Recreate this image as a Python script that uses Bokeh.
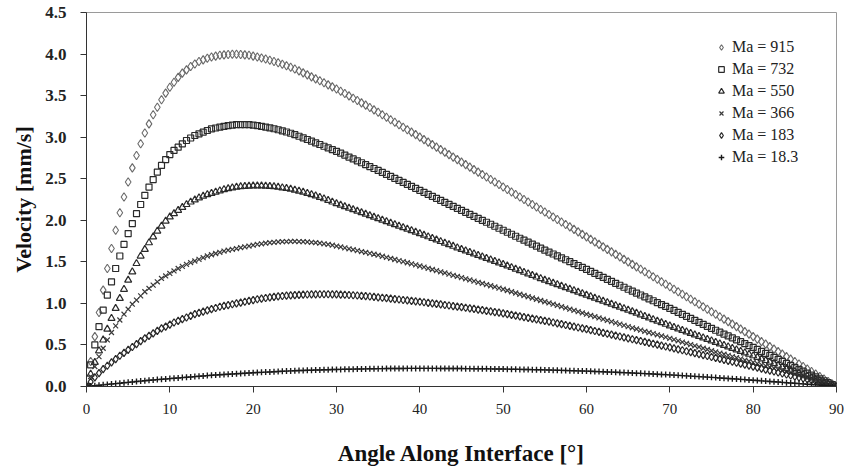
from bokeh.plotting import figure
from bokeh.models import Range1d, FixedTicker, NumeralTickFormatter, Legend, LegendItem
from bokeh.embed import file_html
from bokeh.resources import INLINE

# Sampling angle along the interface, degrees (0.5 degree steps)
ANGLE = [i * 0.5 for i in range(181)]

X_TICKS = [0, 10, 20, 30, 40, 50, 60, 70, 80, 90]
Y_TICKS = [0.0, 0.5, 1.0, 1.5, 2.0, 2.5, 3.0, 3.5, 4.0, 4.5]

# Interface velocity [mm/s] for each Marangoni number
MA_915 = [0,
    0.30, 0.60, 0.89, 1.16, 1.42, 1.66, 1.88, 2.09, 2.28, 2.46,
    2.63, 2.78, 2.92, 3.05, 3.16, 3.27, 3.36, 3.45, 3.53, 3.60,
    3.66, 3.72, 3.77, 3.81, 3.85, 3.88, 3.91, 3.93, 3.95, 3.965,
    3.975, 3.985, 3.99, 3.995, 3.998, 3.998, 3.995, 3.99, 3.985, 3.975,
    3.965, 3.953, 3.940, 3.926, 3.911, 3.895, 3.878, 3.860, 3.841, 3.82,
    3.797, 3.774, 3.750, 3.726, 3.702, 3.678, 3.654, 3.629, 3.605, 3.58,
    3.553, 3.525, 3.497, 3.469, 3.441, 3.413, 3.385, 3.357, 3.329, 3.30,
    3.27, 3.24, 3.21, 3.18, 3.15, 3.12, 3.09, 3.06, 3.03, 3.00,
    2.97, 2.94, 2.91, 2.88, 2.85, 2.82, 2.79, 2.76, 2.73, 2.70,
    2.67, 2.64, 2.61, 2.58, 2.55, 2.52, 2.49, 2.46, 2.43, 2.40,
    2.37, 2.34, 2.31, 2.28, 2.25, 2.22, 2.19, 2.16, 2.13, 2.10,
    2.07, 2.04, 2.01, 1.98, 1.95, 1.92, 1.89, 1.86, 1.83, 1.80,
    1.77, 1.74, 1.71, 1.68, 1.65, 1.62, 1.59, 1.56, 1.53, 1.50,
    1.47, 1.44, 1.41, 1.38, 1.35, 1.32, 1.29, 1.26, 1.23, 1.20,
    1.17, 1.14, 1.11, 1.08, 1.05, 1.02, 0.99, 0.96, 0.93, 0.90,
    0.87, 0.84, 0.81, 0.78, 0.75, 0.72, 0.69, 0.66, 0.63, 0.60,
    0.57, 0.54, 0.51, 0.48, 0.45, 0.42, 0.39, 0.36, 0.33, 0.30,
    0.27, 0.24, 0.21, 0.18, 0.15, 0.12, 0.09, 0.06, 0.03, 0.0]

MA_732 = [0,
    0.26, 0.50, 0.72, 0.92, 1.10, 1.26, 1.42, 1.57, 1.71, 1.84,
    1.96, 2.08, 2.19, 2.30, 2.40, 2.49, 2.58, 2.66, 2.73, 2.79,
    2.84, 2.88, 2.92, 2.96, 2.99, 3.02, 3.04, 3.06, 3.08, 3.10,
    3.11, 3.12, 3.13, 3.14, 3.145, 3.15, 3.152, 3.152, 3.15, 3.145,
    3.139, 3.131, 3.122, 3.112, 3.101, 3.089, 3.076, 3.062, 3.047, 3.03,
    3.011, 2.992, 2.972, 2.952, 2.932, 2.912, 2.891, 2.871, 2.850, 2.83,
    2.807, 2.784, 2.761, 2.738, 2.715, 2.692, 2.669, 2.646, 2.623, 2.60,
    2.576, 2.552, 2.528, 2.504, 2.48, 2.456, 2.432, 2.408, 2.384, 2.36,
    2.336, 2.312, 2.288, 2.264, 2.24, 2.216, 2.192, 2.168, 2.144, 2.12,
    2.096, 2.072, 2.048, 2.024, 2.00, 1.976, 1.952, 1.928, 1.904, 1.88,
    1.856, 1.832, 1.808, 1.784, 1.76, 1.736, 1.712, 1.688, 1.664, 1.64,
    1.617, 1.594, 1.571, 1.548, 1.525, 1.502, 1.479, 1.456, 1.433, 1.41,
    1.386, 1.362, 1.338, 1.314, 1.29, 1.266, 1.242, 1.218, 1.194, 1.17,
    1.147, 1.124, 1.101, 1.078, 1.055, 1.032, 1.009, 0.986, 0.963, 0.94,
    0.916, 0.892, 0.868, 0.844, 0.82, 0.796, 0.772, 0.748, 0.724, 0.70,
    0.677, 0.654, 0.631, 0.608, 0.585, 0.562, 0.539, 0.516, 0.493, 0.47,
    0.446, 0.422, 0.398, 0.374, 0.35, 0.326, 0.302, 0.278, 0.254, 0.23,
    0.207, 0.184, 0.161, 0.138, 0.115, 0.092, 0.069, 0.046, 0.023, 0.0]

MA_550 = [0,
    0.15, 0.29, 0.43, 0.56, 0.69, 0.82, 0.94, 1.06, 1.17, 1.28,
    1.38, 1.48, 1.57, 1.65, 1.73, 1.80, 1.87, 1.93, 1.99, 2.04,
    2.08, 2.12, 2.155, 2.19, 2.22, 2.245, 2.27, 2.29, 2.31, 2.325,
    2.34, 2.355, 2.37, 2.38, 2.39, 2.398, 2.404, 2.408, 2.411, 2.413,
    2.414, 2.413, 2.411, 2.408, 2.404, 2.398, 2.391, 2.383, 2.374, 2.364,
    2.352, 2.339, 2.325, 2.31, 2.294, 2.277, 2.259, 2.24, 2.22, 2.20,
    2.182, 2.164, 2.146, 2.128, 2.11, 2.092, 2.074, 2.056, 2.038, 2.02,
    2.002, 1.984, 1.966, 1.948, 1.93, 1.912, 1.894, 1.876, 1.858, 1.84,
    1.821, 1.802, 1.783, 1.764, 1.745, 1.726, 1.707, 1.688, 1.669, 1.65,
    1.632, 1.614, 1.596, 1.578, 1.56, 1.542, 1.524, 1.506, 1.488, 1.47,
    1.451, 1.432, 1.413, 1.394, 1.375, 1.356, 1.337, 1.318, 1.299, 1.28,
    1.262, 1.244, 1.226, 1.208, 1.19, 1.172, 1.154, 1.136, 1.118, 1.10,
    1.082, 1.064, 1.046, 1.028, 1.01, 0.992, 0.974, 0.956, 0.938, 0.92,
    0.901, 0.882, 0.863, 0.844, 0.825, 0.806, 0.787, 0.768, 0.749, 0.73,
    0.712, 0.694, 0.676, 0.658, 0.64, 0.622, 0.604, 0.586, 0.568, 0.55,
    0.532, 0.514, 0.496, 0.478, 0.46, 0.442, 0.424, 0.406, 0.388, 0.37,
    0.351, 0.332, 0.313, 0.294, 0.275, 0.256, 0.237, 0.218, 0.199, 0.18,
    0.162, 0.144, 0.126, 0.108, 0.09, 0.072, 0.054, 0.036, 0.018, 0.0]

MA_366 = [0,
    0.12, 0.24, 0.36, 0.46, 0.56, 0.65, 0.73, 0.80, 0.87, 0.93,
    0.99, 1.04, 1.09, 1.14, 1.18, 1.22, 1.26, 1.30, 1.33, 1.36,
    1.39, 1.42, 1.445, 1.47, 1.49, 1.51, 1.53, 1.55, 1.57, 1.585,
    1.60, 1.615, 1.63, 1.64, 1.65, 1.66, 1.67, 1.68, 1.69, 1.70,
    1.71, 1.717, 1.724, 1.73, 1.735, 1.739, 1.742, 1.744, 1.745, 1.745,
    1.744, 1.742, 1.739, 1.735, 1.73, 1.724, 1.717, 1.709, 1.70, 1.69,
    1.679, 1.668, 1.657, 1.646, 1.635, 1.624, 1.613, 1.602, 1.591, 1.58,
    1.567, 1.554, 1.541, 1.528, 1.515, 1.502, 1.489, 1.476, 1.463, 1.45,
    1.436, 1.422, 1.408, 1.394, 1.38, 1.366, 1.352, 1.338, 1.324, 1.31,
    1.296, 1.282, 1.268, 1.254, 1.24, 1.226, 1.212, 1.198, 1.184, 1.17,
    1.155, 1.14, 1.125, 1.11, 1.095, 1.08, 1.065, 1.05, 1.035, 1.02,
    1.005, 0.99, 0.975, 0.96, 0.945, 0.93, 0.915, 0.90, 0.885, 0.87,
    0.855, 0.84, 0.825, 0.81, 0.795, 0.78, 0.765, 0.75, 0.735, 0.72,
    0.706, 0.692, 0.678, 0.664, 0.65, 0.636, 0.622, 0.608, 0.594, 0.58,
    0.565, 0.55, 0.535, 0.52, 0.505, 0.49, 0.475, 0.46, 0.445, 0.43,
    0.416, 0.402, 0.388, 0.374, 0.36, 0.346, 0.332, 0.318, 0.304, 0.29,
    0.276, 0.261, 0.247, 0.232, 0.218, 0.203, 0.189, 0.174, 0.16, 0.145,
    0.131, 0.116, 0.102, 0.087, 0.073, 0.058, 0.044, 0.029, 0.015, 0.0]

MA_183 = [0,
    0.055, 0.11, 0.16, 0.21, 0.25, 0.29, 0.33, 0.37, 0.405, 0.44,
    0.475, 0.51, 0.545, 0.58, 0.61, 0.64, 0.67, 0.70, 0.72, 0.745,
    0.77, 0.79, 0.81, 0.83, 0.85, 0.87, 0.885, 0.90, 0.915, 0.93,
    0.945, 0.96, 0.97, 0.98, 0.99, 1.00, 1.01, 1.02, 1.03, 1.04,
    1.05, 1.058, 1.065, 1.072, 1.078, 1.084, 1.089, 1.093, 1.097, 1.10,
    1.103, 1.105, 1.107, 1.108, 1.109, 1.11, 1.11, 1.11, 1.109, 1.108,
    1.106, 1.104, 1.101, 1.098, 1.095, 1.091, 1.087, 1.083, 1.078, 1.073,
    1.068, 1.063, 1.057, 1.052, 1.047, 1.041, 1.036, 1.031, 1.025, 1.02,
    1.014, 1.007, 1.001, 0.994, 0.988, 0.981, 0.975, 0.968, 0.962, 0.955,
    0.948, 0.94, 0.933, 0.925, 0.918, 0.91, 0.903, 0.895, 0.888, 0.88,
    0.871, 0.862, 0.853, 0.844, 0.835, 0.826, 0.817, 0.808, 0.799, 0.79,
    0.78, 0.77, 0.76, 0.75, 0.74, 0.73, 0.72, 0.71, 0.70, 0.69,
    0.679, 0.668, 0.657, 0.646, 0.635, 0.624, 0.613, 0.602, 0.591, 0.58,
    0.569, 0.558, 0.547, 0.536, 0.525, 0.514, 0.503, 0.492, 0.481, 0.47,
    0.459, 0.447, 0.436, 0.424, 0.413, 0.401, 0.39, 0.378, 0.367, 0.355,
    0.344, 0.332, 0.321, 0.309, 0.298, 0.286, 0.275, 0.263, 0.252, 0.24,
    0.228, 0.216, 0.204, 0.192, 0.18, 0.168, 0.156, 0.144, 0.132, 0.12,
    0.108, 0.096, 0.084, 0.072, 0.06, 0.048, 0.036, 0.024, 0.012, 0.0]

MA_18_3 = [0,
    0.005, 0.01, 0.015, 0.02, 0.025, 0.03, 0.035, 0.04, 0.045, 0.05,
    0.055, 0.06, 0.065, 0.07, 0.075, 0.079, 0.083, 0.087, 0.091, 0.095,
    0.099, 0.103, 0.107, 0.111, 0.115, 0.119, 0.123, 0.127, 0.131, 0.135,
    0.138, 0.141, 0.144, 0.147, 0.15, 0.153, 0.156, 0.159, 0.162, 0.165,
    0.168, 0.170, 0.173, 0.175, 0.178, 0.180, 0.183, 0.185, 0.188, 0.19,
    0.192, 0.193, 0.195, 0.196, 0.198, 0.199, 0.201, 0.202, 0.204, 0.205,
    0.206, 0.207, 0.208, 0.209, 0.21, 0.211, 0.212, 0.213, 0.214, 0.215,
    0.215, 0.216, 0.216, 0.217, 0.217, 0.217, 0.218, 0.218, 0.218, 0.218,
    0.218, 0.218, 0.218, 0.218, 0.217, 0.217, 0.217, 0.216, 0.216, 0.216,
    0.215, 0.215, 0.214, 0.214, 0.213, 0.213, 0.212, 0.211, 0.211, 0.21,
    0.209, 0.208, 0.207, 0.206, 0.205, 0.204, 0.203, 0.202, 0.201, 0.20,
    0.199, 0.197, 0.196, 0.194, 0.193, 0.191, 0.19, 0.188, 0.187, 0.185,
    0.183, 0.181, 0.179, 0.177, 0.175, 0.173, 0.171, 0.169, 0.167, 0.165,
    0.163, 0.160, 0.158, 0.155, 0.153, 0.150, 0.148, 0.145, 0.143, 0.14,
    0.137, 0.134, 0.131, 0.128, 0.125, 0.122, 0.119, 0.116, 0.113, 0.11,
    0.107, 0.103, 0.1, 0.096, 0.093, 0.09, 0.086, 0.083, 0.079, 0.076,
    0.072, 0.068, 0.065, 0.061, 0.057, 0.054, 0.05, 0.046, 0.043, 0.039,
    0.035, 0.031, 0.027, 0.023, 0.019, 0.016, 0.012, 0.008, 0.004, 0.0]

LABELS = ["Ma = 915", "Ma = 732", "Ma = 550", "Ma = 366", "Ma = 183", "Ma = 18.3"]
VALUES = [MA_915, MA_732, MA_550, MA_366, MA_183, MA_18_3]
MARKERS = ["diamond", "square", "triangle", "x", "diamond", "cross"]
SIZES = [8.5, 6, 7, 7, 7.5, 6]
COLORS = ["#6a6a6a", "#2a2a2a", "#2a2a2a", "#3a3a3a", "#2a2a2a", "#1a1a1a"]
WIDTHS = [1.1, 1.2, 1.2, 1.2, 1.2, 1.4]

SERIF = "Liberation Serif"

p = figure(width=844, height=470, output_backend="svg", toolbar_location=None,
           x_range=Range1d(0, 90), y_range=Range1d(0, 4.5),
           min_border_left=86, min_border_right=8,
           min_border_top=12, min_border_bottom=84)

p.background_fill_color = "white"
p.border_fill_color = "white"
p.outline_line_color = "#9a9a9a"
p.outline_line_width = 1
p.xgrid.visible = False
p.ygrid.visible = False

p.xaxis.ticker = FixedTicker(ticks=X_TICKS)
p.yaxis.ticker = FixedTicker(ticks=Y_TICKS)
p.yaxis.formatter = NumeralTickFormatter(format="0.0")

for ax in (p.xaxis[0], p.yaxis[0]):
    ax.axis_line_color = "#333333"
    ax.major_tick_line_color = "#333333"
    ax.major_tick_in = 0
    ax.major_tick_out = 6
    ax.minor_tick_in = 0
    ax.minor_tick_out = 0
    ax.major_label_text_font = SERIF
    ax.major_label_text_color = "#222222"
    ax.axis_label_text_font = SERIF
    ax.axis_label_text_font_style = "bold"
    ax.axis_label_text_color = "#111111"

p.xaxis.major_label_text_font_size = "15px"
p.xaxis.major_label_standoff = 11
p.xaxis.axis_label = "Angle Along Interface [\u00b0]"
p.xaxis.axis_label_text_font_size = "23px"
p.xaxis.axis_label_standoff = 24

p.yaxis.major_label_text_font_size = "17px"
p.yaxis.major_label_text_font_style = "bold"
p.yaxis.major_label_standoff = 14
p.yaxis.axis_label = "Velocity [mm/s]"
p.yaxis.axis_label_text_font_size = "22px"
p.yaxis.axis_label_standoff = 6

items = []
for label, vals, marker, size, color, lw in zip(LABELS, VALUES, MARKERS, SIZES, COLORS, WIDTHS):
    r = p.scatter(ANGLE[:len(vals)], vals, marker=marker, size=size,
                  line_color=color, line_width=lw, fill_color=None)
    items.append(LegendItem(label=label, renderers=[r]))

legend = Legend(items=items, location=(628, 219),
                border_line_color=None, background_fill_alpha=0,
                padding=0, margin=0, spacing=2,
                glyph_width=14, glyph_height=20, label_height=20,
                label_standoff=4,
                label_text_font=SERIF, label_text_font_size="16px",
                label_text_color="#222222")
p.add_layout(legend)

open("out.html", "w").write(file_html(p, INLINE))
